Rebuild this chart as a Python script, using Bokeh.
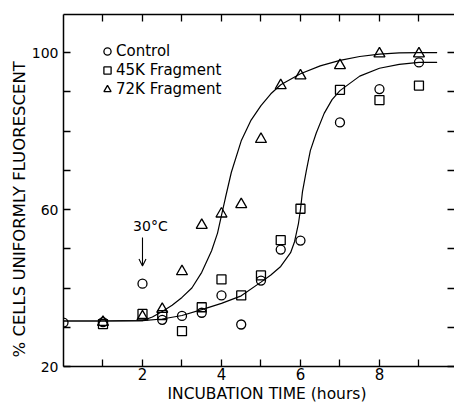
from bokeh.plotting import figure
from bokeh.models import (Range1d, FixedTicker, Label, Arrow, OpenHead, Legend, LegendItem,
                          LinearAxis, Title)
from bokeh.embed import file_html
from bokeh.resources import INLINE

# ---- data ----
hours_ctrl = [0, 1, 2, 2.5, 3, 3.5, 4, 4.5, 5, 5.5, 6, 7, 8, 9]
ctrl = [31.2, 31.3, 41.1, 31.9, 32.9, 33.7, 38.1, 30.7, 41.9, 49.8, 52.1, 82.2, 90.7, 97.5]

hours_frag = [1, 2, 2.5, 3, 3.5, 4, 4.5, 5, 5.5, 6, 7, 8, 9]
frag45 = [30.8, 33.4, 33.1, 29.0, 35.1, 42.2, 38.1, 43.2, 52.2, 60.2, 90.5, 87.9, 91.6]
frag72 = [31.3, 32.7, 34.6, 44.2, 56.0, 58.9, 61.3, 77.9, 91.6, 94.1, 96.7, 99.7, 99.7]

# fitted curves
fit72_x = [0, 1, 2, 2.25, 2.5, 2.75, 3, 3.25, 3.5, 3.75, 3.9, 4.0, 4.1, 4.25, 4.5, 4.75, 5, 5.25, 5.5, 6, 6.5, 7, 7.5, 8, 8.5, 9, 9.46]
fit72_y = [31.6, 31.6, 31.7, 32.6, 34.0, 35.6, 37.6, 40.0, 44.0, 49.5, 54.0, 58.5, 63.0, 69.5, 77.5, 82.8, 86.5, 89.5, 91.8, 94.6, 96.6, 98.0, 99.0, 99.6, 99.9, 100.0, 100.0]

fitc_x = [0, 1, 2, 2.5, 3, 3.5, 4, 4.5, 5, 5.25, 5.5, 5.75, 5.85, 5.95, 6.0, 6.05, 6.15, 6.25, 6.4, 6.6, 6.8, 7, 7.5, 8, 8.5, 9, 9.46]
fitc_y = [31.6, 31.6, 31.7, 32.1, 33.0, 34.5, 36.1, 38.0, 41.5, 43.3, 45.5, 49.0, 51.8, 56.5, 60.0, 64.5, 70.0, 75.0, 79.5, 84.5, 88.0, 90.3, 94.0, 96.0, 97.0, 97.5, 97.5]

x_ticks = [1, 2, 3, 4, 5, 6, 7, 8, 9]
x_labels = {2: "2", 4: "4", 6: "6", 8: "8"}
y_ticks = [20, 30, 40, 50, 60, 70, 80, 90, 100]
y_labels = {20: "20", 60: "60", 100: "100"}

FONT = "DejaVu Sans"

p = figure(width=454, height=403, output_backend="svg", toolbar_location=None,
           x_range=Range1d(0, 9.9), y_range=Range1d(20, 109.7),
           min_border_left=63, min_border_right=0, min_border_top=14, min_border_bottom=37,
           x_axis_location=None, y_axis_location=None)
p.outline_line_color = None
p.grid.visible = False
p.background_fill_color = "white"
p.border_fill_color = "white"

def mk_axis(ticks, labels, show_labels, fsize, standoff=5):
    ax = LinearAxis(ticker=FixedTicker(ticks=ticks),
                    major_label_overrides={t: labels.get(t, "") for t in ticks})
    ax.major_tick_in = 7
    ax.major_tick_out = 0
    ax.minor_tick_in = 0
    ax.minor_tick_out = 0
    ax.axis_line_width = 1.5
    ax.major_tick_line_width = 1.3
    ax.axis_line_color = "black"
    ax.major_tick_line_color = "black"
    ax.major_label_text_font = FONT
    ax.major_label_text_color = "black"
    if show_labels:
        ax.major_label_text_font_size = fsize
        ax.major_label_standoff = standoff
    else:
        ax.major_label_text_font_size = "0px"
        ax.major_label_standoff = 0
    return ax

p.add_layout(mk_axis(x_ticks, x_labels, True, "15px", standoff=1), "below")
p.add_layout(mk_axis(y_ticks, y_labels, True, "14px"), "left")
p.add_layout(mk_axis(x_ticks, {}, False, "0px"), "above")
rax = mk_axis(y_ticks, {}, False, "0px")
rax.axis_line_color = None
p.add_layout(rax, "right")

# axis titles (as titles so they can be offset like the original)
p.add_layout(Title(text="INCUBATION TIME (hours)", align="left", offset=104,
                   text_font=FONT, text_font_size="15.5px", text_font_style="normal",
                   text_color="black", standoff=0), "below")
p.add_layout(Title(text="% CELLS UNIFORMLY FLUORESCENT", align="left", offset=9,
                   text_font=FONT, text_font_size="16.5px", text_font_style="normal",
                   text_color="black", standoff=0), "left")

# fitted curves
p.line(fit72_x, fit72_y, line_color="black", line_width=1.2)
p.line(fitc_x, fitc_y, line_color="black", line_width=1.2)

r_c = p.scatter(hours_ctrl, ctrl, marker="circle", size=9, fill_color=None,
                line_color="black", line_width=1.3)
r_s = p.scatter(hours_frag, frag45, marker="square", size=9, fill_color=None,
                line_color="black", line_width=1.3)
r_t = p.scatter(hours_frag, frag72, marker="triangle", size=11, fill_color=None,
                line_color="black", line_width=1.3)

legend = Legend(items=[LegendItem(label="Control", renderers=[r_c]),
                       LegendItem(label="45K Fragment", renderers=[r_s]),
                       LegendItem(label="72K Fragment", renderers=[r_t])],
                location=(35, 268), glyph_width=18, glyph_height=18, label_height=18,
                label_standoff=-3, spacing=1, padding=0, margin=0,
                border_line_color=None, background_fill_alpha=0,
                label_text_font=FONT, label_text_font_size="15px", label_text_color="black")
p.add_layout(legend, "center")

# annotation 30°C with arrow
p.add_layout(Label(x=2.2, y=55.7, text="30°C", text_font=FONT, text_font_size="14px",
                   text_align="center", text_baseline="middle", text_color="black"))
p.add_layout(Arrow(x_start=2, y_start=52.9, x_end=2, y_end=45.6, line_width=1.1,
                   line_color="black",
                   end=OpenHead(size=7, line_width=1.1, line_color="black")))

open("out.html", "w").write(file_html(p, INLINE))
